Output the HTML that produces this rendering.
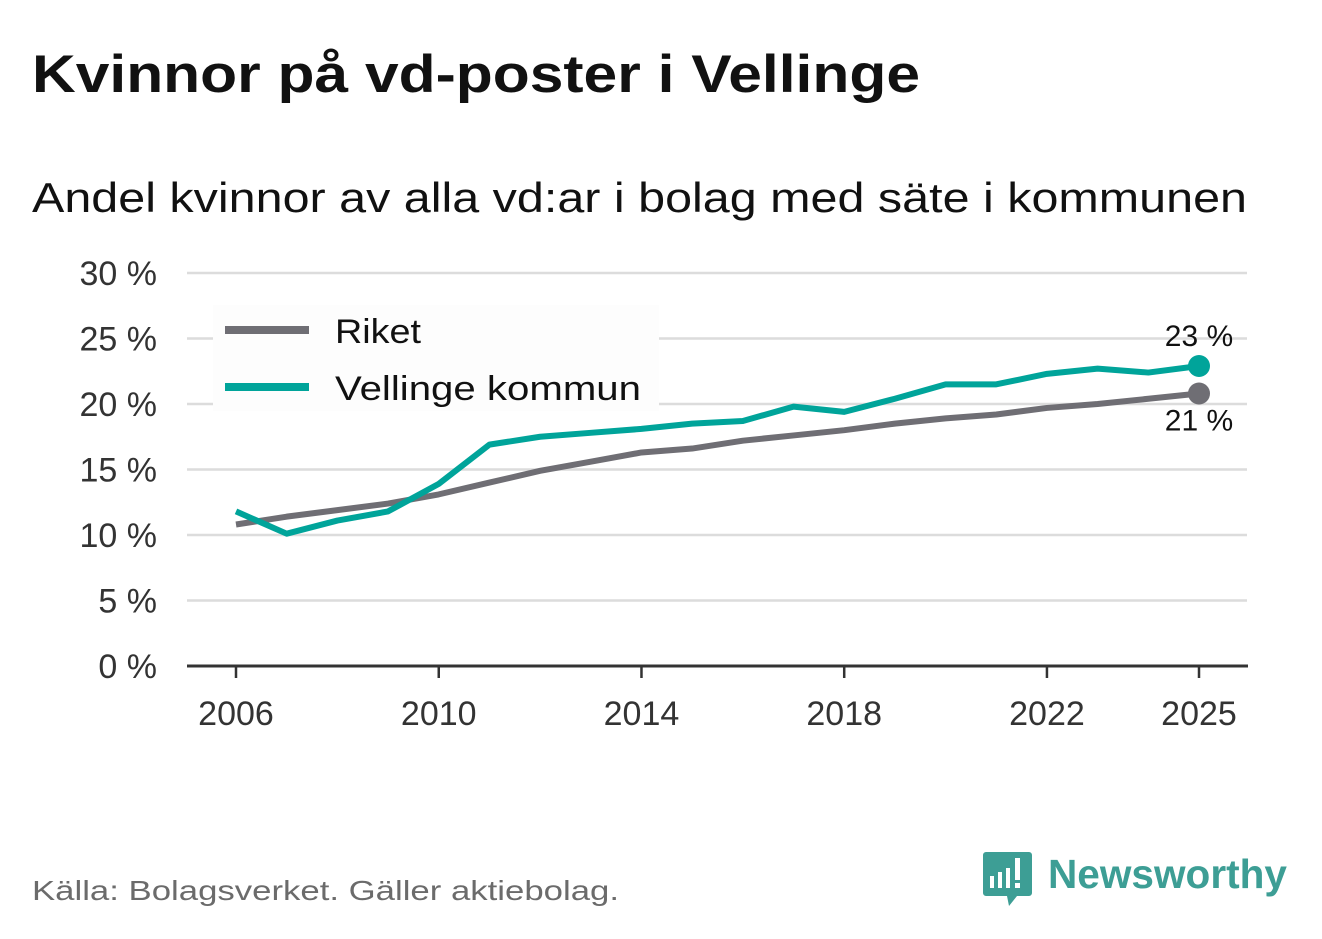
<!DOCTYPE html>
<html><head><meta charset="utf-8"><style>
html,body{margin:0;padding:0;background:#fff;}
svg{display:block;font-family:"Liberation Sans","DejaVu Sans",sans-serif;}
</style></head><body>
<svg id="chart" width="1322" height="939" viewBox="0 0 1322 939">
<text x="32" y="92" font-size="53" font-weight="bold" fill="#111" textLength="888" lengthAdjust="spacingAndGlyphs">Kvinnor på vd-poster i Vellinge</text>
<text x="32" y="212" font-size="42" fill="#111" textLength="1215" lengthAdjust="spacingAndGlyphs">Andel kvinnor av alla vd:ar i bolag med säte i kommunen</text>
<g id="grid"></g>
<g id="yticks"></g>
<g id="xticks"></g>
<rect x="213" y="305" width="446" height="106" fill="#fdfdfd"/>
<g>
<rect x="225" y="326" width="84" height="8" fill="#6f6e74"/>
<text x="335" y="343" font-size="34" fill="#111" textLength="86" lengthAdjust="spacingAndGlyphs">Riket</text>
<rect x="225" y="383" width="84" height="8" fill="#00a49a"/>
<text x="335" y="400" font-size="34" fill="#111" textLength="306" lengthAdjust="spacingAndGlyphs">Vellinge kommun</text>
</g>
<g id="series"></g>
<text x="32" y="900" font-size="28" fill="#6b6b6b" textLength="587" lengthAdjust="spacingAndGlyphs">Källa: Bolagsverket. Gäller aktiebolag.</text>
<g>
<path d="M983 852 h46 a3 3 0 0 1 3 3 v38 a3 3 0 0 1 -3 3 h-12 l-8 10 l-2 -10 h-21 a3 3 0 0 1 -3 -3 v-38 a3 3 0 0 1 3 -3z" fill="#3d9e95"/>
<rect x="990" y="876" width="4" height="12" fill="#fff"/>
<rect x="998" y="872" width="4" height="16" fill="#fff"/>
<rect x="1006" y="868" width="4" height="20" fill="#fff"/>
<rect x="1015" y="858" width="5" height="22" fill="#fff"/>
<rect x="1015" y="883" width="5" height="5" fill="#fff"/>
<text x="1048" y="888" font-size="41" font-weight="bold" fill="#3d9e95" textLength="239" lengthAdjust="spacingAndGlyphs">Newsworthy</text>
</g>
</svg>
<script>
const years=[2006,2007,2008,2009,2010,2011,2012,2013,2014,2015,2016,2017,2018,2019,2020,2021,2022,2023,2024,2025];
const riket=[10.8,11.4,11.9,12.4,13.1,14.0,14.9,15.6,16.3,16.6,17.2,17.6,18.0,18.5,18.9,19.2,19.7,20.0,20.4,20.8];
const vellinge=[11.8,10.1,11.1,11.8,13.9,16.9,17.5,17.8,18.1,18.5,18.7,19.8,19.4,20.4,21.5,21.5,22.3,22.7,22.4,22.9];
const yTicks=[0,5,10,15,20,25,30];
const xTicks=[2006,2010,2014,2018,2022,2025];
const endLabels=["21 %","23 %"];
const NS="http://www.w3.org/2000/svg";
const x=v=>236+(v-2006)*(1199-236)/19;
const y=v=>666-v*(666-273)/30;
function mk(tag,attrs,parent){const e=document.createElementNS(NS,tag);for(const k in attrs)e.setAttribute(k,attrs[k]);parent.appendChild(e);return e;}
const grid=document.getElementById('grid'),yt=document.getElementById('yticks'),xt=document.getElementById('xticks'),ser=document.getElementById('series');
yTicks.forEach(t=>{
 if(t>0){const l=mk('line',{x1:187,x2:1247,y1:y(t),y2:y(t),stroke:'#dcdcdc','stroke-width':2.5},grid);
 
 }
 const tx=mk('text',{x:157,y:y(t)+12,'font-size':34,fill:'#333','text-anchor':'end'},yt);tx.textContent=t+' %';
 
 
});
const ax=mk('line',{x1:187,x2:1248,y1:666,y2:666,stroke:'#333','stroke-width':3},grid);


xTicks.forEach(t=>{
 const tk=mk('line',{x1:x(t),x2:x(t),y1:666,y2:678,stroke:'#333','stroke-width':2.5},xt);
 
 
 const tx=mk('text',{x:x(t),y:725,'font-size':34,fill:'#333','text-anchor':'middle'},xt);tx.textContent=t;
 
 
});
function line(vals,color,name){
 const p=mk('polyline',{points:vals.map((v,i)=>x(years[i])+','+y(v)).join(' '),fill:'none',stroke:color,'stroke-width':6,'stroke-linejoin':'round'},ser);
 
 
 const n=vals.length-1;
 const c=mk('circle',{cx:x(years[n]),cy:y(vals[n]),r:11,fill:color},ser);
 
 
}
line(riket,'#6f6e74','riket');
line(vellinge,'#00a49a','vellinge');
const l1=mk('text',{x:x(2025),y:y(riket[19])+37,'font-size':30,fill:'#111','text-anchor':'middle'},ser);l1.textContent=endLabels[0];


const l2=mk('text',{x:x(2025),y:y(vellinge[19])-20,'font-size':30,fill:'#111','text-anchor':'middle'},ser);l2.textContent=endLabels[1];


</script>
</body></html>
